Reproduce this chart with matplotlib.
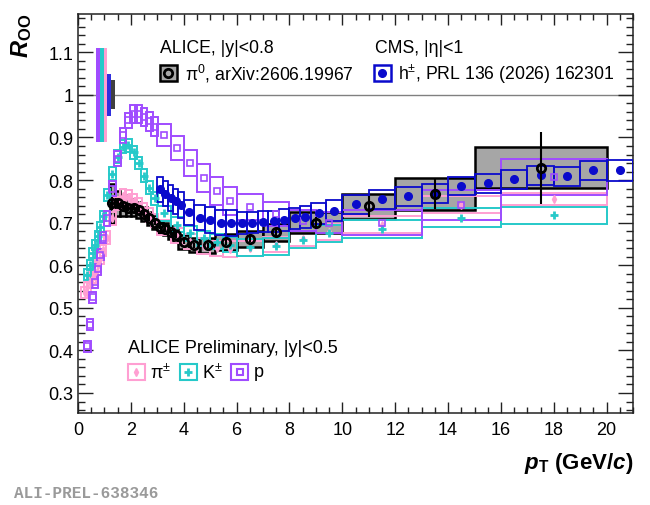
import numpy as np
import matplotlib
matplotlib.use("Agg")
import matplotlib.pyplot as plt
from matplotlib.patches import Rectangle
from matplotlib.ticker import MultipleLocator, FuncFormatter

plt.rcParams['font.family'] = ['Liberation Sans', 'DejaVu Sans']
plt.rcParams['mathtext.fontset'] = 'custom'
plt.rcParams['mathtext.rm'] = 'Liberation Sans'
plt.rcParams['mathtext.bf'] = 'Liberation Sans:bold:italic'
plt.rcParams['mathtext.sf'] = 'Liberation Sans:bold'
plt.rcParams['mathtext.it'] = 'Liberation Sans:italic'

# ---------------- data ----------------
# ALICE pi0, |y|<0.8
pi0_edges = [1.2, 1.4, 1.6, 1.8, 2.0, 2.2, 2.4, 2.6, 2.8, 3.0, 3.2, 3.4, 3.6, 3.8,
             4.2, 4.6, 5.2, 6.0, 7.0, 8.0, 10.0, 12.0, 15.0, 20.0]
pi0_vals = [0.745, 0.745, 0.740, 0.735, 0.735, 0.730, 0.720, 0.710, 0.700, 0.690,
            0.685, 0.677, 0.670, 0.655, 0.647, 0.647, 0.654, 0.662, 0.677, 0.700,
            0.738, 0.767, 0.829]
pi0_syst = [0.045, 0.030, 0.025, 0.020, 0.020, 0.018, 0.017, 0.016, 0.015, 0.015,
            0.015, 0.015, 0.015, 0.016, 0.017, 0.018, 0.019, 0.019, 0.021, 0.024,
            0.030, 0.038, 0.048]
pi0_stat = [0.015, 0.010, 0.008, 0.007, 0.006, 0.006, 0.006, 0.006, 0.006, 0.006,
            0.006, 0.006, 0.006, 0.006, 0.006, 0.006, 0.007, 0.008, 0.010, 0.014,
            0.025, 0.035, 0.085]

# CMS h+-, |eta|<1
cms_edges = [3.0, 3.2, 3.4, 3.6, 3.8, 4.0, 4.4, 4.8, 5.2, 5.6, 6.0, 6.4, 6.8, 7.2, 7.6,
             8.0, 8.4, 8.8, 9.4, 10.0, 11.0, 12.0, 13.0, 14.0, 15.0, 16.0, 17.0, 18.0,
             19.0, 20.0, 21.0]
cms_vals = [0.778, 0.768, 0.758, 0.750, 0.742, 0.724, 0.712, 0.706, 0.700, 0.699,
            0.699, 0.700, 0.702, 0.703, 0.706, 0.710, 0.713, 0.722, 0.728, 0.743,
            0.755, 0.762, 0.769, 0.786, 0.792, 0.802, 0.811, 0.809, 0.823, 0.823]
cms_syst = [0.030] * 10 + [0.025] * 9 + [0.022] * 10 + [0.025]

# ALICE Preliminary identified hadrons, |y|<0.5
pion_edges = [0.2, 0.3, 0.4, 0.5, 0.6, 0.7, 0.8, 0.9, 1.0, 1.2, 1.4, 1.6, 1.8, 2.0,
              2.2, 2.4, 2.6, 2.8, 3.0, 3.5, 4.0, 4.5, 5.0, 5.5, 6.0, 7.0, 8.0, 9.0,
              10.0, 13.0, 16.0, 20.0]
pion_vals = [0.535, 0.548, 0.560, 0.572, 0.585, 0.600, 0.615, 0.635, 0.665, 0.710,
             0.745, 0.762, 0.760, 0.752, 0.742, 0.730, 0.718, 0.705, 0.688, 0.670,
             0.655, 0.645, 0.640, 0.638, 0.640, 0.648, 0.662, 0.678, 0.695, 0.742,
             0.755]
pion_syst = [0.013] * 8 + [0.016] * 10 + [0.018] * 6 + [0.018] * 4 + [0.020, 0.020, 0.014]

kaon_edges = [0.3, 0.4, 0.5, 0.6, 0.7, 0.8, 0.9, 1.0, 1.2, 1.4, 1.6, 1.8, 2.0, 2.2,
              2.4, 2.6, 2.8, 3.0, 3.5, 4.0, 4.5, 5.0, 5.5, 6.0, 7.0, 8.0, 9.0, 10.0,
              13.0, 16.0, 20.0]
kaon_vals = [0.578, 0.600, 0.628, 0.648, 0.668, 0.690, 0.715, 0.765, 0.815, 0.855,
             0.878, 0.882, 0.865, 0.840, 0.810, 0.782, 0.757, 0.722, 0.695, 0.675,
             0.663, 0.655, 0.648, 0.642, 0.645, 0.660, 0.675, 0.685, 0.712, 0.717]
kaon_syst = [0.012] * 7 + [0.015] * 10 + [0.018] * 6 + [0.020] * 4 + [0.022, 0.022, 0.020]

proton_edges = [0.3, 0.4, 0.5, 0.6, 0.7, 0.8, 0.9, 1.0, 1.2, 1.4, 1.6, 1.8, 2.0, 2.2,
                2.4, 2.6, 2.8, 3.0, 3.5, 4.0, 4.5, 5.0, 5.5, 6.0, 7.0, 8.0, 9.0, 10.0,
                13.0, 16.0, 20.0]
proton_vals = [0.410, 0.460, 0.525, 0.560, 0.590, 0.625, 0.665, 0.710, 0.780, 0.850,
               0.905, 0.940, 0.955, 0.955, 0.948, 0.938, 0.925, 0.905, 0.875, 0.840,
               0.805, 0.775, 0.750, 0.737, 0.720, 0.705, 0.700, 0.700, 0.742, 0.808]
proton_syst = [0.013] * 7 + [0.018] * 5 + [0.022] * 5 + [0.026, 0.028, 0.030, 0.032,
               0.033, 0.033] + [0.030, 0.028, 0.025, 0.025] + [0.030, 0.035, 0.042]

# normalisation uncertainties (p, K, pi, CMS h, ALICE pi0)
norm_unc = [0.111, 0.111, 0.111, 0.049, 0.034]

# ---------------- style ----------------
C_PI = '#ff9fd2'
C_K = '#26c9c9'
C_P = '#a04cff'
C_CMS = '#0a0acc'
C_PI0_FILL = '#a6a6a6'
C_NORM = [C_P, C_K, C_PI, '#3030dd', '#404040']
FS = 12.7

fig = plt.figure(figsize=(6.5, 5.06), dpi=100)
ax = fig.add_axes([0.12, 0.1818, 0.854, 0.7886])
ax.set_xlim(0, 21)
ax.set_ylim(0.253, 1.19)


def centers(e):
    e = np.asarray(e)
    return 0.5 * (e[:-1] + e[1:])


def boxes(edges, vals, syst, z, minw=0.0, **kw):
    e = np.asarray(edges)
    v = np.asarray(vals)
    s = np.asarray(syst)
    w = np.maximum(np.diff(e), minw)
    ax.bar(centers(e), 2 * s, width=w, bottom=v - s, align='center', zorder=z, **kw)


# unity line
ax.axhline(1.0, color='#808080', lw=1.0, zorder=1)

# normalisation boxes
n_x0, n_w = 0.68, 0.145
for i, (u, c) in enumerate(zip(norm_unc, C_NORM)):
    ax.bar(n_x0 + i * n_w, 2 * u, width=n_w, bottom=1 - u, align='edge',
           color=c, lw=0, zorder=2)

# pi0 boxes
boxes(pi0_edges, pi0_vals, pi0_syst, 2, facecolor=C_PI0_FILL, edgecolor='black', lw=1.8)
# identified hadrons
boxes(pion_edges, pion_vals, pion_syst, 3, minw=0.25, fill=False, edgecolor=C_PI, lw=1.4)
boxes(kaon_edges, kaon_vals, kaon_syst, 3, minw=0.25, fill=False, edgecolor=C_K, lw=1.4)
boxes(proton_edges, proton_vals, proton_syst, 3, minw=0.25, fill=False, edgecolor=C_P, lw=1.4)
# CMS
boxes(cms_edges, cms_vals, cms_syst, 4, fill=False, edgecolor=C_CMS, lw=1.3)

ax.plot(centers(pion_edges), pion_vals, ls='none', marker='d', ms=4, color=C_PI,
        mec=C_PI, zorder=5)
ax.plot(centers(kaon_edges), kaon_vals, ls='none', marker='+', ms=6, mew=2, color=C_K,
        zorder=5)
ax.plot(centers(proton_edges), proton_vals, ls='none', marker='s', ms=4.5, mfc='none',
        mew=1.2, mec=C_P, zorder=5)
ax.plot(centers(cms_edges), cms_vals, ls='none', marker='o', ms=5.5, color=C_CMS, zorder=6)
ax.errorbar(centers(pi0_edges), pi0_vals, yerr=pi0_stat, ls='none', marker='o', ms=6,
            mfc='none', mec='black', mew=2, ecolor='black', elinewidth=1.5, capsize=0,
            zorder=7)

# axes styling
ax.xaxis.set_major_locator(MultipleLocator(2))
ax.xaxis.set_minor_locator(MultipleLocator(0.5))
ax.yaxis.set_major_locator(MultipleLocator(0.1))
ax.yaxis.set_minor_locator(MultipleLocator(0.02))
ax.yaxis.set_major_formatter(FuncFormatter(lambda v, p: f'{v:.1f}' if abs(v - 1) > 1e-6 else '1'))
ax.tick_params(axis='both', which='both', direction='in', top=True, right=True,
               labelsize=13, width=1.0, colors='#222222', labelcolor='black')
ax.tick_params(axis='y', which='major', length=11)
ax.tick_params(axis='y', which='minor', length=5)
ax.tick_params(axis='x', which='major', length=8)
ax.tick_params(axis='x', which='minor', length=4)
ax.tick_params(axis='x', which='major', pad=6)
for s in ax.spines.values():
    s.set_linewidth(1.1)
    s.set_color('#222222')

# axis titles
fig.text(633 / 650, 1 - 463 / 506, r'$\mathbf{p}_{\mathsf{T}}$ (GeV/$\mathbf{c}$)',
         ha='right', va='center', fontsize=16, fontweight='bold')
fig.text(22 / 650, 1 - 14 / 506, r'$\mathbf{R}_{\mathsf{OO}}$', rotation=90,
         ha='center', va='top', fontsize=17, fontweight='bold')

# legends (axes-fraction)
T = ax.transAxes
ax.text(0.148, 0.917, 'ALICE, |y|<0.8', transform=T, fontsize=FS, va='center')
ax.add_patch(Rectangle((0.148, 0.832), 0.030, 0.040, transform=T, facecolor=C_PI0_FILL,
                       edgecolor='black', lw=1.8, zorder=8))
ax.plot([0.163], [0.852], transform=T, marker='o', ms=6, mfc='none', mec='black',
        mew=2, zorder=9)
ax.text(0.193, 0.852, r'$\mathregular{\pi^0}$, arXiv:2606.19967', transform=T,
        fontsize=FS, va='center')

ax.text(0.535, 0.917, 'CMS, |η|<1', transform=T, fontsize=FS, va='center')
ax.add_patch(Rectangle((0.533, 0.832), 0.030, 0.040, transform=T, facecolor='white',
                       edgecolor=C_CMS, lw=1.8, zorder=8))
ax.plot([0.548], [0.852], transform=T, marker='o', ms=5.5, color=C_CMS, zorder=9)
ax.text(0.577, 0.852, r'$\mathregular{h^{\pm}}$, PRL 136 (2026) 162301', transform=T,
        fontsize=FS, va='center')

ax.text(0.09, 0.165, 'ALICE Preliminary, |y|<0.5', transform=T, fontsize=13, va='center')
leg = [(0.090, C_PI, 'd', r'$\mathregular{\pi^{\pm}}$'),
       (0.184, C_K, '+', r'$\mathregular{K^{\pm}}$'),
       (0.276, C_P, 's', 'p')]
for x0, c, m, lab in leg:
    ax.add_patch(Rectangle((x0, 0.083), 0.030, 0.040, transform=T, facecolor='white',
                           edgecolor=c, lw=1.5, zorder=8))
    if m == 's':
        ax.plot([x0 + 0.015], [0.103], transform=T, marker=m, ms=5, mfc='none', mec=c,
                mew=1.5, zorder=9)
    elif m == '+':
        ax.plot([x0 + 0.015], [0.103], transform=T, marker=m, ms=6, mew=2, color=c, zorder=9)
    else:
        ax.plot([x0 + 0.015], [0.103], transform=T, marker=m, ms=4, color=c, zorder=9)
    ax.text(x0 + 0.040, 0.103, lab, transform=T, fontsize=13, va='center')

fig.text(14 / 650, 1 - 494 / 506, 'ALI-PREL-638346', fontsize=11.5, color='#9a9a9a',
         family='Liberation Mono', fontweight='bold', va='center', ha='left')

fig.savefig('out.png', dpi=100)
